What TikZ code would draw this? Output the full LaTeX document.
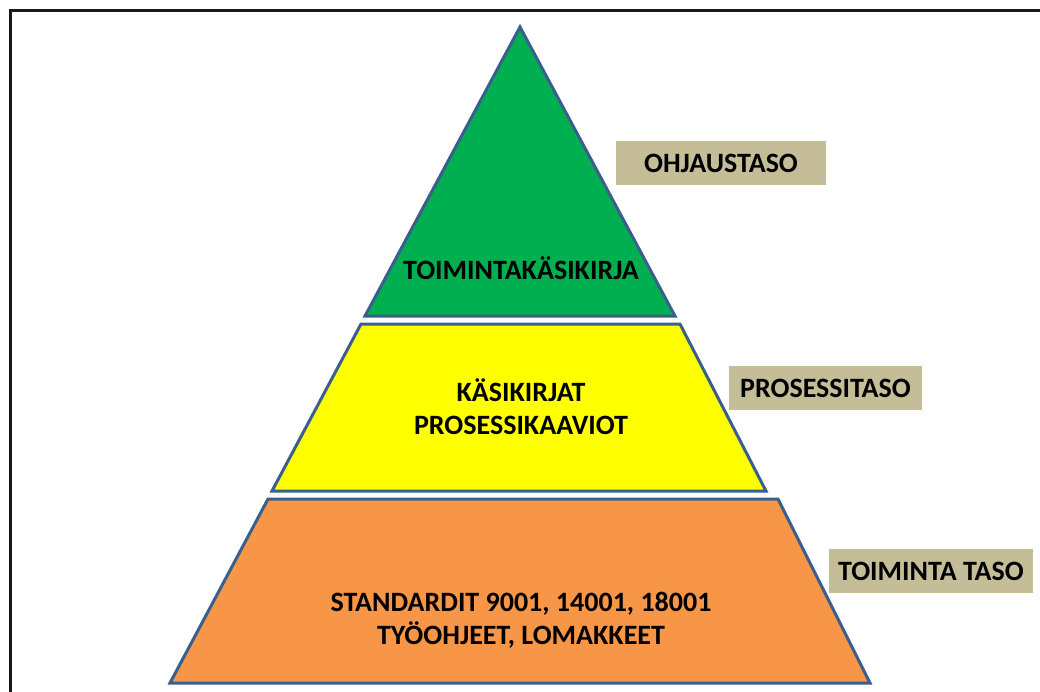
\documentclass[tikz,border=0pt]{standalone}
\usepackage{fontspec}
\setmainfont{Carlito}
\definecolor{lvgreen}{HTML}{00B050}
\definecolor{lvyellow}{HTML}{FFFF00}
\definecolor{lvorange}{HTML}{F79646}
\definecolor{lvedge}{HTML}{3A5F8F}
\definecolor{lvtan}{HTML}{C4BD97}
\tikzset{
  level/.style={draw=lvedge, line width=3pt, line join=miter},
  tiertext/.style={font=\fontsize{28}{33}\selectfont\bfseries, align=center, text=black},
  tagbox/.style={fill=lvtan, minimum height=44pt, inner sep=0pt,
    font=\fontsize{28}{30}\selectfont\bfseries, text=black}
}
\begin{document}
\begin{tikzpicture}[x=1pt, y=-1pt]
  \useasboundingbox (0,0) rectangle (1040,691);
  \clip (0,0) rectangle (1040,691);
  % outer frame, running past the page on the right and bottom
  \draw[line width=3pt, draw=black!90] (10,10) rectangle (1060,720);

  % pyramid levels
  \path[level, fill=lvgreen]  (520,27) -- (675,316) -- (365,316) -- cycle;
  \path[level, fill=lvyellow] (361,324) -- (680,324) -- (766,491) -- (272,491) -- cycle;
  \path[level, fill=lvorange] (268,499) -- (778,499) -- (870,683) -- (170,683) -- cycle;

  % level contents
  \node[tiertext] (top) at (521,268) {TOIMINTAKÄSIKIRJA};
  \node[tiertext] (mid) at (521,407) {KÄSIKIRJAT\\PROSESSIKAAVIOT};
  \node[tiertext] (bot) at (521,620) {STANDARDIT 9001, 14001, 18001\\TYÖOHJEET, LOMAKKEET};

  % level names
  \node[tagbox, minimum width=210pt] (t1) at (721,163) {OHJAUSTASO};
  \node[tagbox, minimum width=193pt] (t2) at (825.5,388) {PROSESSITASO};
  \node[tagbox, minimum width=204pt] (t3) at (931,571) {TOIMINTA TASO};
\end{tikzpicture}
\end{document}
